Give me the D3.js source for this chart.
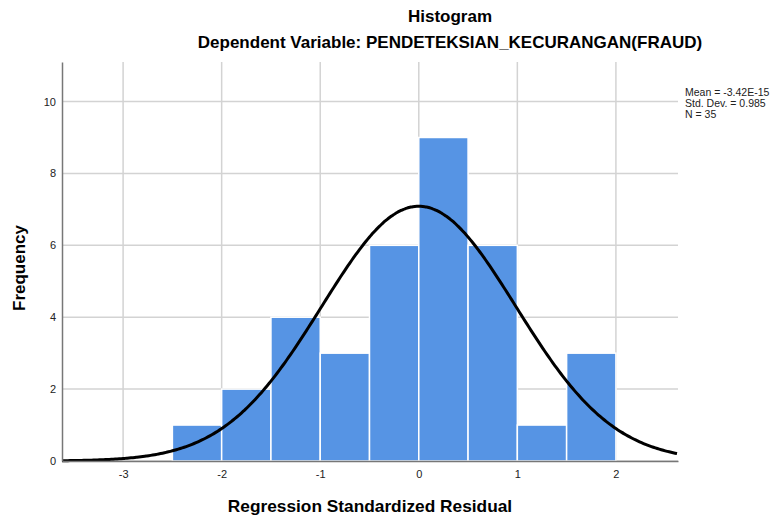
<!DOCTYPE html>
<html>
<head>
<meta charset="utf-8">
<script src="https://cdn.jsdelivr.net/npm/d3@7"></script>
<style>
  body { margin: 0; background: #fff; }
  text { font-family: "Liberation Sans", Arial, sans-serif; }
</style>
</head>
<body>
<div id="container"></div>
<script>
/* CONSTANTS AND GLOBALS */
const width = 779,
  height = 517,
  margin = { top: 62, bottom: 56, left: 62, right: 101 };

// histogram data (bin edges + counts)
const binStarts = [-2.5, -2.0, -1.5, -1.0, -0.5, 0.0, 0.5, 1.0, 1.5];
const binCounts = [1, 2, 4, 3, 6, 9, 6, 1, 3];
const binWidth = 0.5;
const xTicks = [-3, -2, -1, 0, 1, 2];
const yTicks = [0, 2, 4, 6, 8, 10];
const stats = { mean: -3.42e-15, sd: 0.985, n: 35 };
const statLabels = ["Mean = -3.42E-15", "Std. Dev. = 0.985", "N = 35"];

const svg = d3.select("#container")
  .append("svg")
  .attr("width", width)
  .attr("height", height);

// + SCALES
const xScale = d3.scaleLinear()
  .domain([-3.62, 2.63])
  .range([margin.left, width - margin.right]);

const yScale = d3.scaleLinear()
  .domain([0, 11.1])
  .range([height - margin.bottom, margin.top]);

// + GRID
svg.append("g")
  .selectAll("line")
  .data(xTicks)
  .join("line")
  .attr("x1", d => xScale(d)).attr("x2", d => xScale(d))
  .attr("y1", margin.top).attr("y2", height - margin.bottom)
  .attr("stroke", "#d3d3d3").attr("stroke-width", 1.5);

svg.append("g")
  .selectAll("line")
  .data(yTicks)
  .join("line")
  .attr("x1", margin.left).attr("x2", width - margin.right)
  .attr("y1", d => yScale(d)).attr("y2", d => yScale(d))
  .attr("stroke", "#d3d3d3").attr("stroke-width", 1.5);

// + BARS
svg.append("g")
  .selectAll("rect")
  .data(binStarts.map((s, i) => ({ x0: s, x1: s + binWidth, count: binCounts[i] })))
  .join("rect")
  .attr("x", d => xScale(d.x0))
  .attr("width", d => xScale(d.x1) - xScale(d.x0))
  .attr("y", d => yScale(d.count))
  .attr("height", d => yScale(0) - yScale(d.count))
  .attr("fill", "#5694e4")
  .attr("stroke", "#ffffff")
  .attr("stroke-width", 1.5);

// + NORMAL CURVE (SPSS overlay from mean / sd / N)
const curveXs = d3.range(-3.62, 2.631, 0.02);
const scaleFactor = stats.n * binWidth / (stats.sd * Math.sqrt(2 * Math.PI));
const curve = d3.line()
  .x(d => xScale(d))
  .y(d => yScale(scaleFactor * Math.exp(-0.5 * ((d - stats.mean) / stats.sd) ** 2)))
  .curve(d3.curveBasis);

svg.append("path")
  .datum(curveXs)
  .attr("d", curve)
  .attr("fill", "none")
  .attr("stroke", "#000")
  .attr("stroke-width", 3);

// + AXES
const xAxis = d3.axisBottom(xScale).tickValues(xTicks).tickSize(0).tickPadding(9)
  .tickFormat(d3.format("d"));
const yAxis = d3.axisLeft(yScale).tickValues(yTicks).tickSize(0).tickPadding(6);

svg.append("g")
  .attr("transform", `translate(0,${height - margin.bottom})`)
  .call(xAxis)
  .call(g => g.select(".domain").attr("stroke", "#777").attr("stroke-width", 1.5))
  .call(g => g.selectAll("text").attr("font-size", 11).attr("fill", "#222")
    .text(d => d < 0 ? "-" + Math.abs(d) : d));

svg.append("g")
  .attr("transform", `translate(${margin.left},0)`)
  .call(yAxis)
  .call(g => g.select(".domain").attr("stroke", "#777").attr("stroke-width", 1.5))
  .call(g => g.selectAll("text").attr("font-size", 11).attr("fill", "#222"));

// + TITLES
svg.append("text")
  .attr("x", 450).attr("y", 22)
  .attr("text-anchor", "middle")
  .attr("font-size", 17).attr("font-weight", "bold")
  .text("Histogram");

svg.append("text")
  .attr("x", 450).attr("y", 48)
  .attr("text-anchor", "middle")
  .attr("font-size", 17).attr("font-weight", "bold")
  .text("Dependent Variable: PENDETEKSIAN_KECURANGAN(FRAUD)");

svg.append("text")
  .attr("x", 370).attr("y", 512)
  .attr("text-anchor", "middle")
  .attr("font-size", 17.3).attr("font-weight", "bold")
  .text("Regression Standardized Residual");

svg.append("text")
  .attr("transform", `translate(25,268) rotate(-90)`)
  .attr("text-anchor", "middle")
  .attr("font-size", 17).attr("font-weight", "bold")
  .text("Frequency");

// + STATS LEGEND
svg.append("g")
  .selectAll("text")
  .data(statLabels)
  .join("text")
  .attr("x", 685)
  .attr("y", (d, i) => 96 + i * 11)
  .attr("font-size", 10.5)
  .attr("fill", "#222")
  .text(d => d);
</script>
</body>
</html>
